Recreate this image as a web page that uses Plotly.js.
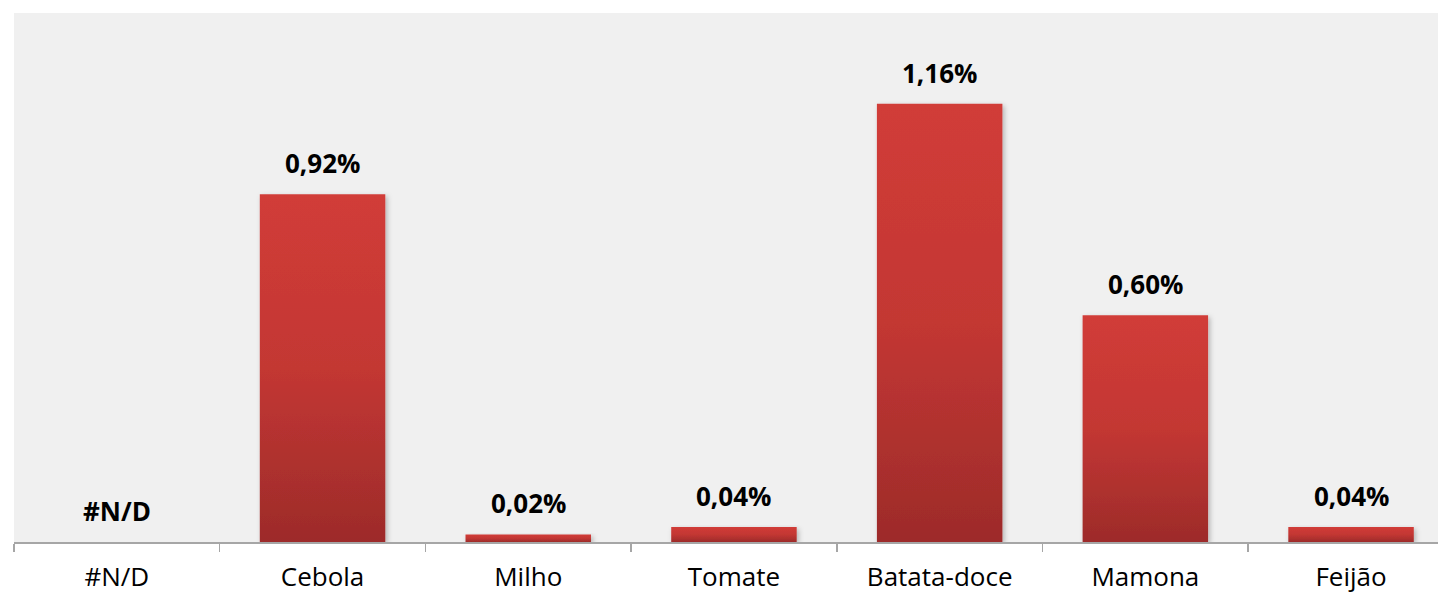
<!DOCTYPE html>
<html>
<head>
<meta charset="utf-8">
<script src="https://cdn.plot.ly/plotly-3.0.1.min.js"></script>
<style>
  html, body { margin: 0; padding: 0; background: #ffffff; }
  #chart { width: 1438px; height: 598px; }
</style>
</head>
<body>
<div id="chart"></div>
<script>
// Data
const categories = ['#N/D', 'Cebola', 'Milho', 'Tomate', 'Batata-doce', 'Mamona', 'Feijão'];
const values = [null, 0.92, 0.02, 0.04, 1.16, 0.60, 0.04];
const valueLabels = ['#N/D', '0,92%', '0,02%', '0,04%', '1,16%', '0,60%', '0,04%'];

const trace = {
  type: 'bar',
  x: categories,
  y: values,
  marker: { color: '#c13532', line: { width: 0 } },
  hoverinfo: 'none'
};

const annotations = categories.map((c, i) => ({
  x: c,
  y: values[i] === null ? 0 : values[i],
  xref: 'x', yref: 'y',
  text: valueLabels[i],
  showarrow: false,
  yanchor: 'bottom',
  yshift: 11,
  font: { family: 'Open Sans, sans-serif', size: 26, color: '#000000', weight: 'bold' }
}));

const plotWidth = 1438 - 14;
const catWidth = 205.7;

const layout = {
  width: 1438,
  height: 598,
  margin: { l: 14, r: 0, t: 13, b: 56 },
  paper_bgcolor: '#ffffff',
  plot_bgcolor: '#f0f0f0',
  showlegend: false,
  bargap: 0.39,
  xaxis: {
    type: 'category',
    range: [-0.5, -0.5 + plotWidth / catWidth],
    showline: true,
    linecolor: '#a6a6a6',
    linewidth: 2,
    ticks: 'outside',
    tickson: 'boundaries',
    ticklen: 8,
    tickwidth: 1.5,
    tickcolor: '#a6a6a6',
    showgrid: false,
    zeroline: false,
    tickfont: { family: 'Open Sans, sans-serif', size: 26, color: '#000000' },
    ticklabelstandoff: 11,
    fixedrange: true
  },
  yaxis: {
    range: [0, 1.4],
    visible: false,
    showgrid: false,
    zeroline: false,
    fixedrange: true
  },
  annotations: annotations
};

Plotly.newPlot('chart', [trace], layout, { displayModeBar: false, staticPlot: true }).then(gd => {
  const svg = gd.querySelector('svg.main-svg');
  const ns = 'http://www.w3.org/2000/svg';
  let defs = svg.querySelector('defs');
  if (!defs) { defs = document.createElementNS(ns, 'defs'); svg.insertBefore(defs, svg.firstChild); }
  const grad = document.createElementNS(ns, 'linearGradient');
  grad.setAttribute('id', 'barGrad');
  grad.setAttribute('x1', '0'); grad.setAttribute('y1', '0');
  grad.setAttribute('x2', '0'); grad.setAttribute('y2', '1');
  [['0', '#d13c38'], ['0.5', '#c33733'], ['1', '#9d2b2a']].forEach(([o, c]) => {
    const s = document.createElementNS(ns, 'stop');
    s.setAttribute('offset', o); s.setAttribute('stop-color', c);
    grad.appendChild(s);
  });
  defs.appendChild(grad);
  const filt = document.createElementNS(ns, 'filter');
  filt.setAttribute('id', 'barShadow');
  filt.setAttribute('x', '-10%'); filt.setAttribute('y', '-10%');
  filt.setAttribute('width', '130%'); filt.setAttribute('height', '130%');
  const sh = document.createElementNS(ns, 'feDropShadow');
  sh.setAttribute('dx', '2'); sh.setAttribute('dy', '2');
  sh.setAttribute('stdDeviation', '2.5');
  sh.setAttribute('flood-color', '#000000'); sh.setAttribute('flood-opacity', '0.25');
  filt.appendChild(sh);
  defs.appendChild(filt);
  gd.querySelectorAll('.barlayer .point path').forEach(p => {
    p.style.fill = 'url(#barGrad)';
    p.setAttribute('filter', 'url(#barShadow)');
  });
});
</script>
</body>
</html>
